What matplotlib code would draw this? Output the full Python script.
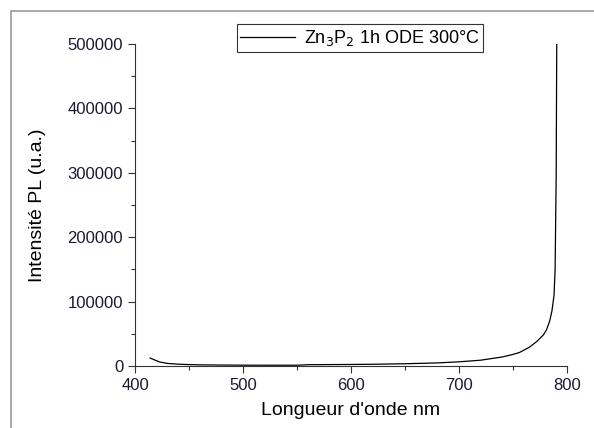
import numpy as np
import matplotlib
matplotlib.use("Agg")
import matplotlib.pyplot as plt
import matplotlib.ticker as ticker
from matplotlib.patches import Rectangle

plt.rcParams['font.family'] = ['Liberation Sans', 'DejaVu Sans']

# PL spectrum
wavelength = [414, 418, 423, 430, 440, 450, 460, 480, 500, 520, 550, 560, 580, 600,
              620, 650, 680, 700, 720, 740, 750, 756, 765, 772, 778, 781, 784,
              786, 788, 789, 790, 790.5]
intensity = [12400, 9500, 6200, 4000, 2800, 2200, 1800, 1500, 1300, 1200, 1200, 2000,
             2200, 2400, 2700, 3500, 4800, 6500, 9000, 14000, 18000, 21000, 29000,
             38000, 48000, 56000, 70000, 85000, 110000, 150000, 300000, 500000]
series_label = r'Zn$_3$P$_2$ 1h ODE 300°C'

fig = plt.figure(figsize=(5.94, 4.28), dpi=100)
ax = fig.add_axes([135/594, 1-366/428, 432/594, 322/428])

ax.plot(wavelength, intensity, color='black', lw=0.9, label=series_label)

ax.set_xlim(400, 800)
ax.set_ylim(0, 500000)
ax.spines['top'].set_visible(False)
ax.spines['right'].set_visible(False)
ax.spines['left'].set_linewidth(0.8)
ax.spines['bottom'].set_linewidth(0.8)
ax.spines['left'].set_color('#333333')
ax.spines['bottom'].set_color('#333333')

ax.xaxis.set_major_locator(ticker.MultipleLocator(100))
ax.xaxis.set_minor_locator(ticker.MultipleLocator(50))
ax.yaxis.set_major_locator(ticker.MultipleLocator(100000))
ax.yaxis.set_minor_locator(ticker.MultipleLocator(50000))
ax.tick_params(which='major', direction='out', length=5, width=0.8, labelsize=12,
               colors='#333333', labelcolor='#1a1a33')
ax.tick_params(which='minor', direction='out', length=3, width=0.8, colors='#333333')

ax.set_xlabel("Longueur d'onde nm", fontsize=14)
ax.set_ylabel("Intensité PL (u.a.)", fontsize=14)
ax.xaxis.set_label_coords(0.5, (366-402)/322)
ax.yaxis.set_label_coords((46-135)/432, 0.5)

leg = fig.legend(loc='center', bbox_to_anchor=(360/594, 1-38/428), fontsize=13,
                 frameon=True, fancybox=False, handlelength=3.0, borderpad=0.2,
                 handletextpad=0.5)
leg.get_frame().set_edgecolor('black')
leg.get_frame().set_linewidth(0.8)

# outer gray frame (cut off at right and bottom)
fig.patches.append(Rectangle((11/594, -0.1), 1.2, 1-11/428+0.1, transform=fig.transFigure,
                             fill=False, edgecolor='#999999', lw=1.2))

fig.savefig("out.png", dpi=100)
